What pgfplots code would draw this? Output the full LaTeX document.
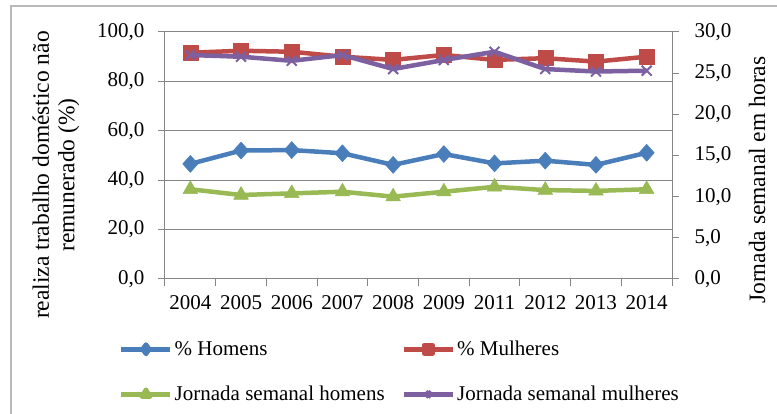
\documentclass[border=0pt]{standalone}
\usepackage{fontspec}
\setmainfont{Liberation Serif}
\usepackage{pgfplots}
\pgfplotsset{compat=1.18}
\definecolor{cblue}{HTML}{4A7EBB}
\definecolor{cred}{HTML}{BE4B48}
\definecolor{cgreen}{HTML}{98B954}
\definecolor{cpurple}{HTML}{7D60A0}
\definecolor{gridc}{HTML}{868686}
\newcommand{\tf}{\fontsize{21}{24}\selectfont}
\newcommand{\lf}{\fontsize{23.5}{25.5}\selectfont}
\pgfplotsset{
  common/.style={
    at={(165pt,135pt)}, anchor=south west, scale only axis,
    width=507pt, height=247pt,
    xmin=-0.5, xmax=9.5,
    tick align=outside, major tick length=7pt,
    axis line style={gridc, line width=1pt},
    tick style={gridc, line width=1pt},
    tick label style={font=\tf},
    yticklabel style={/pgf/number format/fixed, /pgf/number format/fixed zerofill, /pgf/number format/precision=1, /pgf/number format/use comma, /pgf/number format/assume math mode=true},
  },
  lh/.style={cblue, line width=4.5pt, line join=round, mark=diamond*, mark size=8.5pt, mark options={solid, xscale=1.2, line width=0.5pt}},
  lm/.style={cred, line width=4.5pt, line join=round, mark=square*, mark size=7.5pt, mark options={solid, line width=0.5pt}},
  ljh/.style={cgreen, line width=4.5pt, line join=round, mark=triangle*, mark size=8.5pt, mark options={solid, line width=0.5pt}},
  ljm/.style={cpurple, line width=4.5pt, line join=round, mark=x, mark size=7pt, mark options={solid, line width=2pt}},
}
\begin{document}
\begin{tikzpicture}[x=1pt,y=1pt]
\path[use as bounding box] (0,0) rectangle (777,414);
\draw[gray!55, line width=1.5pt] (11,0) -- (11,408) -- (777,408);
\begin{axis}[common,
  ymin=0, ymax=100, ytick={0,20,...,100},
  axis y line*=left, axis x line*=bottom,
  ymajorgrids, grid style={gridc, line width=1pt},
  xtick={-0.5,0.5,...,9.5},
  x tick label as interval,
  xticklabels={2004,2005,2006,2007,2008,2009,2011,2012,2013,2014},
  xticklabel style={yshift=-6pt},
  yticklabel style={xshift=-10pt},
  ylabel={realiza trabalho doméstico não\\remunerado (\%)},
  ylabel style={at={(axis description cs:-0.215,0.421)}, anchor=center, align=center, font=\lf},
]
\addplot[lh] coordinates {(0,46.6) (1,52.0) (2,52.2) (3,50.9) (4,46.2) (5,50.6) (6,46.8) (7,47.9) (8,46.2) (9,51.1)};
\addplot[lm] coordinates {(0,91.6) (1,92.4) (2,92.0) (3,90.0) (4,88.7) (5,90.7) (6,88.7) (7,89.4) (8,88.0) (9,90.0)};
\end{axis}
\begin{axis}[common,
  ymin=0, ymax=30, ytick={0,5,...,30},
  axis y line*=right, axis x line=none,
  yticklabel style={xshift=12pt},
  ylabel={Jornada semanal em horas},
  ylabel style={at={(axis description cs:1.168,0.40)}, anchor=center, font=\lf},
  legend columns=2,
  legend cell align=left,
  legend image code/.code={\draw[#1, mark repeat=2, mark phase=2, mark options={scale=0.55}] plot coordinates {(0pt,0pt) (24.5pt,0pt) (49pt,0pt)};},
  legend style={draw=none, fill=none, font=\tf, at={(axis description cs:-0.0907,-0.243)}, anchor=north west,
    inner sep=0pt, row sep=25pt, /tikz/every even column/.append style={column sep=15pt},
    nodes={inner sep=2pt}},
]
\addlegendimage{lh}\addlegendentry{\% Homens}
\addlegendimage{lm}\addlegendentry{\% Mulheres}
\addplot[ljh] coordinates {(0,10.9) (1,10.2) (2,10.4) (3,10.6) (4,10.0) (5,10.6) (6,11.2) (7,10.8) (8,10.7) (9,10.9)};
\addlegendentry{Jornada semanal homens}
\addplot[ljm] coordinates {(0,27.2) (1,27.0) (2,26.5) (3,27.2) (4,25.5) (5,26.6) (6,27.6) (7,25.5) (8,25.2) (9,25.3)};
\addlegendentry{Jornada semanal mulheres}
\end{axis}
\end{tikzpicture}
\end{document}
